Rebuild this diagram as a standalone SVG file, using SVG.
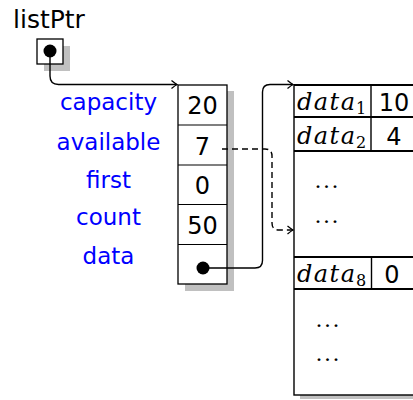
<svg xmlns="http://www.w3.org/2000/svg" width="413" height="400" viewBox="0 0 413 400">
<style>
.lbl{font-family:"DejaVu Sans",sans-serif;font-size:23px;fill:#0000ff;text-anchor:middle}
.num{font-family:"DejaVu Sans",sans-serif;font-size:24px;fill:#000;text-anchor:middle}
.mi{font-family:"DejaVu Serif",serif;font-style:italic;font-size:24px;fill:#000}
.sub{font-family:"DejaVu Serif",serif;font-size:16px;fill:#000}
.dots{font-family:"Liberation Serif",serif;font-size:24px;fill:#000;letter-spacing:2.5px}
.box{fill:#fff;stroke:#000;stroke-width:1.3}
.shadow{fill:#c0c0c0}
.conn{fill:none;stroke:#000;stroke-width:1.4}
</style>
<defs>
<marker id="arr" viewBox="-6 -5 7 10" refX="0" refY="0" markerWidth="7" markerHeight="10" markerUnits="userSpaceOnUse" orient="auto">
<path d="M -5.5 -4 Q -1.5 -0.8 0 0 Q -1.5 0.8 -5.5 4" fill="none" stroke="#000" stroke-width="1.3"/>
</marker>
</defs>
<rect width="413" height="400" fill="#fff"/>

<g id="listPtr">
<text x="13" y="28" style="font-family:'DejaVu Sans',sans-serif;font-size:25px;fill:#000">listPtr</text>
<rect class="shadow" x="44" y="46" width="26" height="25"/>
<rect class="box" x="37" y="39" width="26" height="25"/>
<circle cx="50" cy="51" r="6.5" fill="#000"/>
</g>

<g id="labels">
<text class="lbl" x="108.5" y="110">capacity</text>
<text class="lbl" x="108.5" y="150">available</text>
<text class="lbl" x="108.5" y="188">first</text>
<text class="lbl" x="108.5" y="225">count</text>
<text class="lbl" x="108.5" y="264">data</text>
</g>

<g id="record">
<rect class="shadow" x="185" y="91" width="49" height="200"/>
<rect class="box" x="178" y="85" width="49" height="199"/>
<line x1="178" y1="125" x2="227" y2="125" stroke="#000" stroke-width="1.2"/>
<line x1="178" y1="165" x2="227" y2="165" stroke="#000" stroke-width="1.2"/>
<line x1="178" y1="204.5" x2="227" y2="204.5" stroke="#000" stroke-width="1.2"/>
<line x1="178" y1="244.5" x2="227" y2="244.5" stroke="#000" stroke-width="1.2"/>
<text class="num" x="202.5" y="114">20</text>
<text class="num" x="202.5" y="155">7</text>
<text class="num" x="202.5" y="194">0</text>
<text class="num" x="202.5" y="234">50</text>
<circle cx="203" cy="268" r="6.5" fill="#000"/>
</g>

<g id="array">
<rect class="shadow" x="300" y="91" width="120" height="308"/>
<rect x="294" y="85" width="130" height="310" fill="#fff" stroke="#000" stroke-width="1.4"/>
<line x1="294" y1="85" x2="413" y2="85" stroke="#000" stroke-width="2"/>
<line x1="294" y1="117" x2="413" y2="117" stroke="#000" stroke-width="2.2"/>
<line x1="294" y1="151" x2="413" y2="151" stroke="#000" stroke-width="2"/>
<line x1="371" y1="85" x2="371" y2="151" stroke="#000" stroke-width="1.4"/>
<line x1="294" y1="257" x2="413" y2="257" stroke="#000" stroke-width="2"/>
<line x1="294" y1="289" x2="413" y2="289" stroke="#000" stroke-width="2"/>
<line x1="371.5" y1="257" x2="371.5" y2="289" stroke="#000" stroke-width="1.4"/>
<text class="mi" x="297" y="110" textLength="58" lengthAdjust="spacing">data</text>
<text class="sub" x="356" y="114">1</text>
<text class="mi" x="297" y="144" textLength="58" lengthAdjust="spacing">data</text>
<text class="sub" x="356" y="148">2</text>
<text class="mi" x="297" y="282" textLength="58" lengthAdjust="spacing">data</text>
<text class="sub" x="356" y="286">8</text>
<text class="num" x="394" y="111">10</text>
<text class="num" x="394" y="145">4</text>
<text class="num" x="392" y="283">0</text>
<text class="dots" x="315" y="188">...</text>
<text class="dots" x="315" y="223">...</text>
<text class="dots" x="316" y="327">...</text>
<text class="dots" x="316" y="361">...</text>
</g>

<g id="connectors">
<path class="conn" d="M 50 51 V 76 Q 50 84.5 58.5 84.5 H 177" marker-end="url(#arr)"/>
<path class="conn" d="M 203 268 H 255 Q 262.5 268 262.5 260.5 V 92 Q 262.5 84.5 270 84.5 H 293" marker-end="url(#arr)"/>
<path class="conn" d="M 222 149 H 265 Q 272 149 272 156 V 223 Q 272 230 279 230 H 293" stroke-dasharray="6 4" marker-end="url(#arr)"/>
</g>
</svg>
